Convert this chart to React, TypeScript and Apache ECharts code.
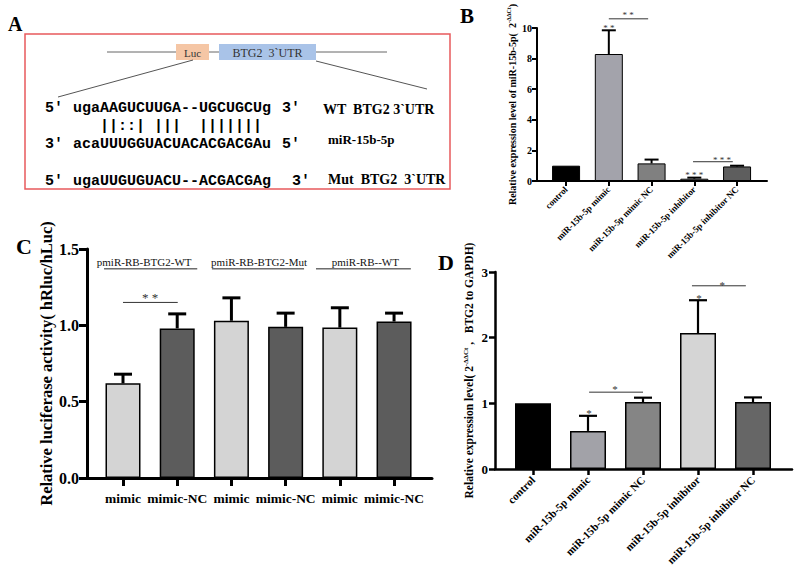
import React, { useEffect, useRef } from 'react';
import * as echarts from 'echarts';

const serif = '"Liberation Serif", "Times New Roman", serif';
const mono = '"Liberation Mono", "Courier New", monospace';

// ---- Panel B: miR-15b-5p expression ----
const catsB = ['control', 'miR-15b-5p mimic', 'miR-15b-5p mimic NC', 'miR-15b-5p inhibitor', 'miR-15b-5p inhibitor NC'];
const meanB = [1.0, 8.3, 1.15, 0.15, 0.95];
const upperB: (number | null)[] = [null, 9.85, 1.4, 0.22, 1.0];
const colorB = ['#000000', '#a3a3ab', '#808080', '#a0a0a0', '#5e5e5e'];
const bracketsB = [[1, 1.92, 10.6], [2.97, 3.9, 1.26]];
const starsB = [[1, 10.15], [1.45, 10.95], [3, 0.55], [3.65, 1.5]];
const starTextB = ['* *', '* *', '* * *', '* * *'];

// ---- Panel C: dual luciferase reporter ----
const catsC = ['mimic', 'mimic-NC', 'mimic', 'mimic-NC', 'mimic', 'mimic-NC'];
const meanC = [0.62, 0.98, 1.03, 0.99, 0.985, 1.025];
const upperC = [0.68, 1.075, 1.18, 1.08, 1.115, 1.08];
const colorC = ['#d4d4d4', '#5c5c5c', '#d4d4d4', '#5c5c5c', '#d4d4d4', '#5c5c5c'];
const groupsC = [[-0.35, 1.37, 1.37, 0.39], [1.64, 3.34, 1.37, 2.51], [3.56, 5.31, 1.37, 4.47]];
const groupNamesC = ['pmiR-RB-BTG2-WT', 'pmiR-RB-BTG2-Mut', 'pmiR-RB--WT'];
const bracketsC = [[0, 1.01, 1.15]];
const starsC = [[0.5, 1.2]];
const starTextC = ['* *'];

// ---- Panel D: BTG2 expression ----
const catsD = ['control', 'miR-15b-5p mimic', 'miR-15b-5p mimic NC', 'miR-15b-5p inhibitor', 'miR-15b-5p inhibitor NC'];
const meanD = [1.0, 0.58, 1.02, 2.07, 1.02];
const upperD: (number | null)[] = [null, 0.81, 1.086, 2.57, 1.09];
const colorD = ['#000000', '#a2a2a8', '#858585', '#d5d5d5', '#666666'];
const bracketsD = [[1.02, 2, 1.17], [2.89, 3.87, 2.79]];
const starsD = [[1.02, 0.89], [1.49, 1.25], [3.02, 2.64], [3.44, 2.84]];
const starTextD = ['*', '*', '*', '*'];

type Ax = { lw: number; tick: number; fs: number; rotate: number; margin: number };

function xCatAxis(gridIndex: number, cats: string[], min: number, max: number, o: Ax) {
  const idx = cats.map((_, i) => i);
  return {
    type: 'value', gridIndex, min, max,
    splitLine: { show: false },
    axisLine: { show: true, onZero: false, lineStyle: { color: '#000', width: o.lw } },
    axisTick: { show: true, customValues: idx, length: o.tick, lineStyle: { color: '#000', width: o.lw } },
    axisLabel: {
      customValues: idx, formatter: (v: number) => cats[Math.round(v)] ?? '',
      rotate: o.rotate, margin: o.margin, color: '#000',
      fontFamily: serif, fontWeight: 'bold', fontSize: o.fs, hideOverlap: false,
    },
  };
}

function yValAxis(gridIndex: number, max: number, interval: number, o: Ax, dec: number, name: string, nameGap: number, nameFs: number, supFs: number) {
  return {
    type: 'value', gridIndex, min: 0, max, interval,
    splitLine: { show: false },
    axisLine: { show: true, onZero: false, lineStyle: { color: '#000', width: o.lw } },
    axisTick: { show: true, length: o.tick, lineStyle: { color: '#000', width: o.lw } },
    axisLabel: { margin: o.margin, color: '#000', fontFamily: serif, fontWeight: 'bold', fontSize: o.fs, formatter: (v: number) => v.toFixed(dec) },
    name, nameLocation: 'middle', nameGap,
    nameTextStyle: {
      color: '#000', fontFamily: serif, fontWeight: 'bold', fontSize: nameFs,
      rich: {
        a: { color: '#000', fontFamily: serif, fontWeight: 'bold', fontSize: nameFs },
        s: { color: '#000', fontFamily: serif, fontWeight: 'bold', fontSize: supFs, padding: [0, 0, supFs, 0] },
      },
    },
  };
}

function barSeries(ax: number, mean: number[], colors: string[], width: number, bw: number) {
  return {
    type: 'bar', xAxisIndex: ax, yAxisIndex: ax, barWidth: width, z: 2,
    itemStyle: { borderColor: '#000', borderWidth: bw },
    data: mean.map((v, i) => ({ value: [i, v], itemStyle: { color: colors[i] } })),
  };
}

// vertical error bar with a cap, from the bar top up to the upper value
function errSeries(ax: number, mean: number[], upper: (number | null)[], cap: number, lw: number) {
  const idx = mean.map((_, i) => i).filter((i) => upper[i] != null);
  return {
    type: 'custom', xAxisIndex: ax, yAxisIndex: ax, z: 3, clip: false,
    itemStyle: { color: '#000' },
    data: idx.map((i) => [i, upper[i] as number]),
    renderItem: (p: any, api: any) => {
      const i = idx[p.dataIndex];
      const p0 = api.coord([i, mean[i]]);
      const p1 = api.coord([i, upper[i] as number]);
      const st = { stroke: '#000', lineWidth: lw, fill: 'none' };
      return {
        type: 'group', children: [
          { type: 'line', shape: { x1: p0[0], y1: p0[1], x2: p1[0], y2: p1[1] }, style: st },
          { type: 'line', shape: { x1: p1[0] - cap / 2, y1: p1[1], x2: p1[0] + cap / 2, y2: p1[1] }, style: st },
        ],
      };
    },
  };
}

function bracketSeries(ax: number, data: number[][], lw: number, color: string) {
  return {
    type: 'custom', xAxisIndex: ax, yAxisIndex: ax, z: 3, clip: false,
    itemStyle: { color },
    data: data.map((d) => [d[0], d[2]]),
    renderItem: (p: any, api: any) => {
      const d = data[p.dataIndex];
      const a = api.coord([d[0], d[2]]);
      const b = api.coord([d[1], d[2]]);
      return { type: 'line', shape: { x1: a[0], y1: a[1], x2: b[0], y2: b[1] }, style: { stroke: color, lineWidth: lw } };
    },
  };
}

function starSeries(ax: number, data: number[][], texts: string[], fs: number) {
  return {
    type: 'custom', xAxisIndex: ax, yAxisIndex: ax, z: 4, clip: false,
    itemStyle: { color: '#333' },
    data: data.map((d) => [d[0], d[1]]),
    renderItem: (p: any, api: any) => {
      const d = data[p.dataIndex];
      const c = api.coord([d[0], d[1]]);
      return {
        type: 'text', x: c[0], y: c[1] + fs * 0.22,
        style: { text: texts[p.dataIndex], fill: '#333', stroke: 'none', fontSize: fs, fontFamily: serif, align: 'center', verticalAlign: 'middle' },
      };
    },
  };
}

function groupSeries(ax: number, data: number[][], names: string[]) {
  return {
    type: 'custom', xAxisIndex: ax, yAxisIndex: ax, z: 3, clip: false,
    itemStyle: { color: '#222' },
    data: data.map((d) => [d[0], d[2]]),
    renderItem: (p: any, api: any) => {
      const d = data[p.dataIndex];
      const a = api.coord([d[0], d[2]]);
      const b = api.coord([d[1], d[2]]);
      const t = api.coord([d[3], d[2]]);
      return {
        type: 'group', children: [
          { type: 'line', shape: { x1: a[0], y1: a[1], x2: b[0], y2: b[1] }, style: { stroke: '#222', lineWidth: 1 } },
          { type: 'text', x: t[0], y: a[1] - 1.5, style: { text: names[p.dataIndex], fill: '#111', fontSize: 11, fontFamily: serif, align: 'center', verticalAlign: 'bottom' } },
        ],
      };
    },
  };
}

const txt = (text: string, x: number, y: number, font: any, extra: any = {}) => ({
  type: 'text', x, y, silent: true,
  style: { text, fill: '#000', textAlign: 'left', textVerticalAlign: 'middle', align: 'left', verticalAlign: 'middle', ...font, ...extra },
});
const seqFont = { fontFamily: mono, fontWeight: 'bold', fontSize: 15 };
const lblFont = { fontFamily: serif, fontWeight: 'bold', fontSize: 14 };
const letterFont = (s: number) => ({ fontFamily: serif, fontWeight: 'bold', fontSize: s });

const graphicA = [
  txt('A', 8, 24, letterFont(20)),
  txt('B', 460, 16, letterFont(21)),
  txt('C', 16, 246, letterFont(22)),
  txt('D', 438, 262, letterFont(22)),
  { type: 'rect', shape: { x: 25, y: 34, width: 425, height: 155 }, style: { fill: 'none', stroke: '#e85a5c', lineWidth: 1.5 } },
  { type: 'line', shape: { x1: 107, y1: 52, x2: 387, y2: 52 }, style: { stroke: '#666', lineWidth: 1 } },
  { type: 'rect', shape: { x: 176, y: 44, width: 33, height: 16 }, style: { fill: '#f5c6a5' } },
  { type: 'rect', shape: { x: 219, y: 44, width: 97, height: 16 }, style: { fill: '#a9c3e8' } },
  txt('Luc', 192.5, 52.5, { fontFamily: serif, fontSize: 11 }, { textAlign: 'center', align: 'center', fill: '#333' }),
  txt('BTG2  3`UTR', 267.5, 52.5, { fontFamily: serif, fontSize: 12 }, { textAlign: 'center', align: 'center', fill: '#333' }),
  { type: 'line', shape: { x1: 193, y1: 60, x2: 58, y2: 97 }, style: { stroke: '#555', lineWidth: 1 } },
  { type: 'line', shape: { x1: 316, y1: 61, x2: 427, y2: 89 }, style: { stroke: '#555', lineWidth: 1 } },
  txt("5'", 45, 108, seqFont),
  txt('ugaAAGUCUUGA--UGCUGCUg', 73, 108, seqFont),
  txt("3'", 282, 108, seqFont),
  txt('   ||::| |||  |||||||', 73, 126, seqFont),
  txt("3'", 45, 144, seqFont),
  txt('acaUUUGGUACUACACGACGAu', 73, 144, seqFont),
  txt('5′', 282, 144, seqFont),
  txt("5'", 45, 181, seqFont),
  txt('ugaUUGUGUACU--ACGACGAg', 73, 181, seqFont),
  txt("3'", 292, 181, seqFont),
  txt('WT  BTG2 3`UTR', 323, 109, lblFont),
  txt('miR-15b-5p', 328, 139, { ...lblFont, fontSize: 13 }),
  txt('Mut  BTG2  3`UTR', 328, 179, lblFont),
];

const option: any = {
  animation: false,
  backgroundColor: '#fff',
  grid: [
    { left: 537, top: 28, width: 230, height: 153 },
    { left: 87, top: 249, width: 345, height: 229 },
    { left: 495, top: 272, width: 297, height: 197 },
  ],
  xAxis: [
    xCatAxis(0, catsB, -0.68, 4.70, { lw: 2, tick: 5, fs: 9, rotate: 45, margin: 7 }),
    xCatAxis(1, catsC, -0.664, 5.70, { lw: 3, tick: 8, fs: 13.5, rotate: 0, margin: 13 }),
    xCatAxis(2, catsD, -0.691, 4.709, { lw: 2.5, tick: 6, fs: 11, rotate: 45, margin: 9 }),
  ],
  yAxis: [
    yValAxis(0, 10, 2, { lw: 2, tick: 5, fs: 10, rotate: 0, margin: 5 }, 0,
      '{a|Relative expression level of miR-15b-5p(  2}{s|-ΔΔCt}{a|)}', 19, 10, 6),
    yValAxis(1, 1.5, 0.5, { lw: 3, tick: 8, fs: 16, rotate: 0, margin: 8 }, 1,
      '{a|Relative luciferase activity( hRluc/hLuc)}', 30, 16.5, 10),
    yValAxis(2, 3, 1, { lw: 2.5, tick: 6, fs: 13, rotate: 0, margin: 7 }, 0,
      '{a|Relative expression level( 2}{s|-ΔΔCt}{a| ,   BTG2 to GAPDH)}', 19, 11.5, 7),
  ],
  graphic: { elements: graphicA },
  series: [
    barSeries(0, meanB, colorB, 28, 1),
    errSeries(0, meanB, upperB, 14, 2),
    bracketSeries(0, bracketsB, 1, '#333'),
    starSeries(0, starsB, starTextB, 9),

    barSeries(1, meanC, colorC, 35, 1.5),
    errSeries(1, meanC, upperC, 18, 3),
    groupSeries(1, groupsC, groupNamesC),
    bracketSeries(1, bracketsC, 1, '#333'),
    starSeries(1, starsC, starTextC, 13),

    barSeries(2, meanD, colorD, 36, 1.5),
    errSeries(2, meanD, upperD, 18, 2.2),
    bracketSeries(2, bracketsD, 1, '#333'),
    starSeries(2, starsD, starTextD, 11),
  ],
};

export default function App() {
  const ref = useRef<HTMLDivElement>(null);
  useEffect(() => {
    const chart = echarts.init(ref.current!, null, { renderer: 'svg' });
    chart.setOption(option);
    return () => chart.dispose();
  }, []);
  return <div ref={ref} style={{ position: 'fixed', left: 0, top: 0, width: 800, height: 574, background: '#fff' }} />;
}
